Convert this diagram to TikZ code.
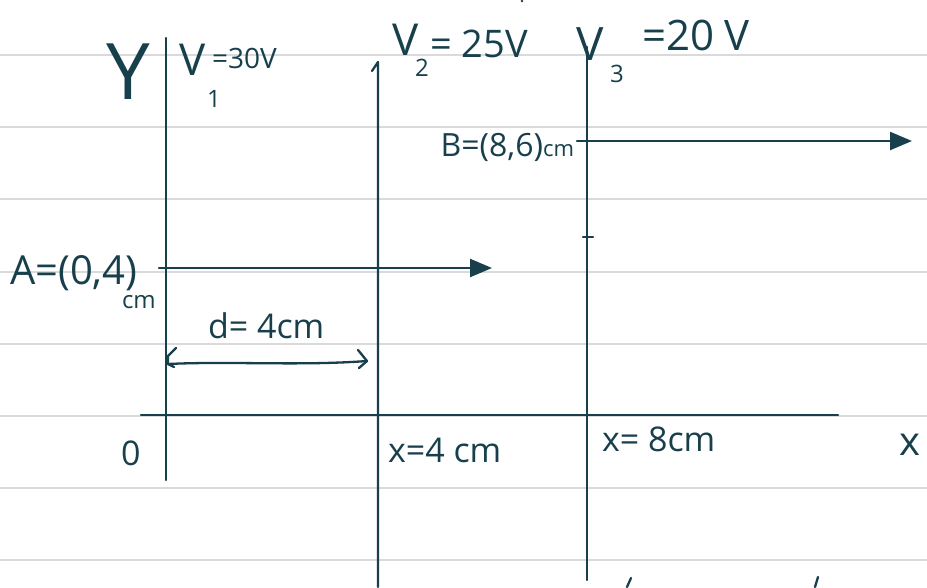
\documentclass[tikz,border=0pt]{standalone}
\usepackage{fontspec}
\setmainfont{Open Sans}
\usetikzlibrary{arrows.meta}
\definecolor{ink}{HTML}{183F4C}
\definecolor{paperrule}{HTML}{DADADA}
\newcommand{\fs}[1]{\fontsize{#1}{#1}\selectfont}
\begin{document}
\begin{tikzpicture}[x=1pt,y=-1pt,
  paperline/.style={draw=paperrule,line width=2.2pt},
  inkline/.style={draw=ink,line width=2.3pt,line cap=round,line join=round},
  bigarrow/.style={inkline,-{Triangle[length=22pt,width=18pt]}},
  hand/.style={text=ink,inner sep=0pt,outer sep=0pt}]
\useasboundingbox[fill=white] (0,0) rectangle (927,587);
% lined paper
\foreach \yy in {55,127,199,272,344,416,488,560}
  \draw[paperline] (0,\yy) -- (927,\yy);
% coordinates
\coordinate (ytop) at (166,38);
\coordinate (ybot) at (166,480);
\coordinate (xl) at (141,415);
\coordinate (xr) at (838,415);
\coordinate (p4top) at (378,62);
\coordinate (p4hook) at (372,71);
\coordinate (p4bot) at (378,587);
\coordinate (p8top) at (587,47);
\coordinate (p8bot) at (587,580);
\coordinate (Astart) at (159,268);
\coordinate (Aend) at (492,268);
\coordinate (Bstart) at (577,141);
\coordinate (Bend) at (912,141);
\coordinate (tickL) at (583,237);
\coordinate (tickR) at (593,237);
\coordinate (dstart) at (168,364);
\coordinate (dend) at (367,361);
% axes and plates
\draw[inkline] (ytop) -- (ybot);
\draw[inkline] (xl) -- (xr);
\draw[inkline] (p4hook) -- (p4top) -- (p4bot);
\draw[inkline] (p8top) -- (p8bot);
\draw[inkline] (tickL) -- (tickR);
% arrows
\draw[bigarrow] (Astart) -- (Aend);
\draw[bigarrow] (Bstart) -- (Bend);
% d arrow
\draw[inkline] (176,348) -- (168,356) -- (dstart) -- (174,367);
\draw[inkline] (dstart) .. controls (230,361) and (300,366) .. (dend);
\draw[inkline] (358,350) -- (dend) -- (359,368);
% stray strokes
\draw[inkline] (627,587) -- (631,578);
\draw[inkline] (815,587) -- (818,577);
\fill[ink] (522,1) circle (1.3pt);
% labels
\node[hand,anchor=base west,font=\fs{78}] (Ylab) at (106,99) {Y};
\node[hand,anchor=base west,font=\fs{44}] (V1) at (179,75) {V};
\node[hand,anchor=base west,font=\fs{24}] (V1s) at (207,107) {1};
\node[hand,anchor=base west,font=\fs{28}] (V1v) at (212,68) {=30V};
\node[hand,anchor=base west,font=\fs{44}] (V2) at (392,55) {V};
\node[hand,anchor=base west,font=\fs{24}] (V2s) at (V2.south east) [yshift=-21pt,xshift=-3pt] {2};
\node[hand,anchor=base west,font=\fs{38}] (V2v) at (430,57) {= 25V};
\node[hand,anchor=base west,font=\fs{46}] (V3) at (576,60) {V};
\node[hand,anchor=base west,font=\fs{24}] (V3s) at (610,82) {3};
\node[hand,anchor=base west,font=\fs{42}] (V3v) at (642,50) {=20 V};
\node[hand,anchor=base east,font=\fs{32}] (Blab) at (574,156) {B=(8,6)\fs{22}cm};
\node[hand,anchor=base west,font=\fs{40}] (Alab) at (10,284) {A=(0,4)};
\node[hand,anchor=base west,font=\fs{24}] (Acm) at (122,308) {cm};
\node[hand,anchor=base west,font=\fs{34}] (dlab) at (208,338) {d= 4cm};
\node[hand,anchor=base west,font=\fs{34}] (Olab) at (121,465) {0};
\node[hand,anchor=base west,font=\fs{34}] (x4) at (388,462) {x=4 cm};
\node[hand,anchor=base west,font=\fs{34}] (x8) at (602,451) {x= 8cm};
\node[hand,anchor=base west,font=\fs{40}] (xlab) at (899,455) {x};
\end{tikzpicture}
\end{document}
